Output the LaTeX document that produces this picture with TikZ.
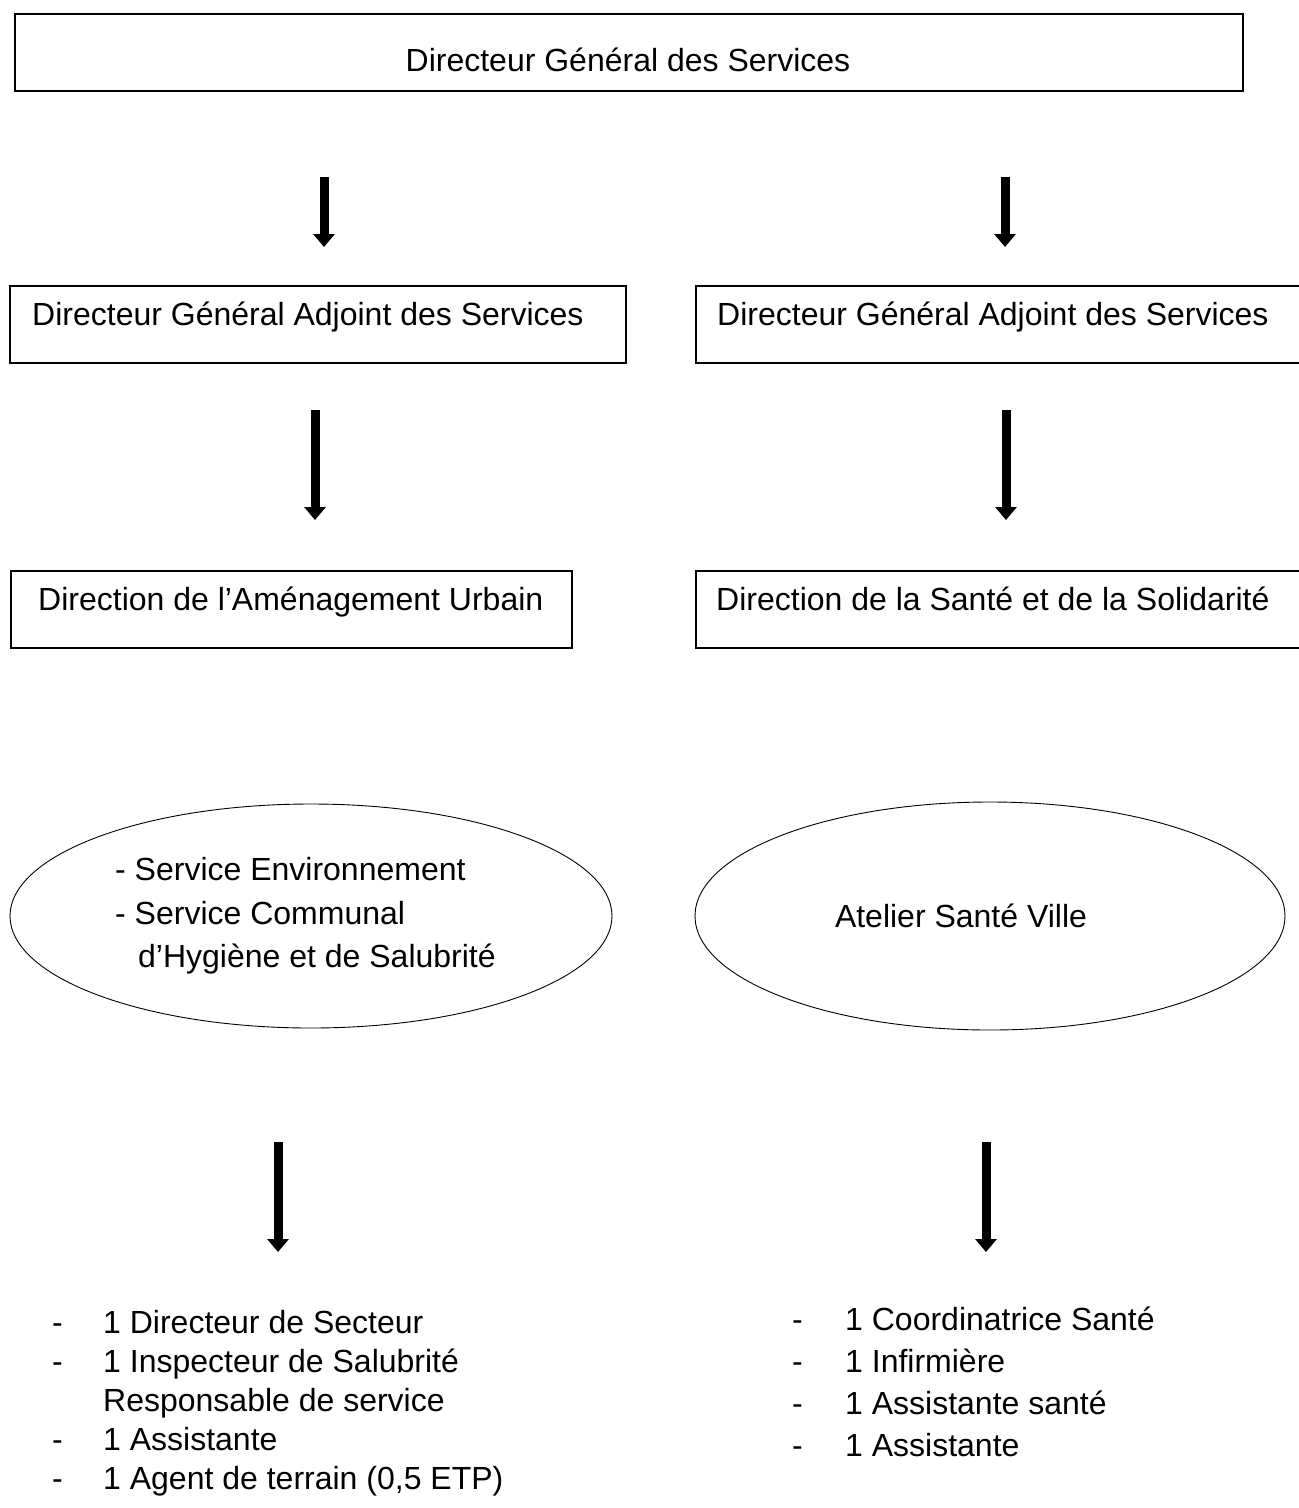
\documentclass[tikz,border=0pt]{standalone}
\usepackage{fontspec}
\setmainfont{Liberation Sans}
\usetikzlibrary{arrows.meta,shapes.geometric}
\begin{document}
\begin{tikzpicture}[x=1pt,y=-1pt,
  box/.style={draw, line width=1.6pt, rectangle, anchor=north west, inner sep=0pt},
  ell/.style={draw, line width=0.9pt, ellipse, inner sep=0pt},
  txt/.style={anchor=base west, inner sep=0pt, font=\fontsize{32}{38}\selectfont},
  ctxt/.style={anchor=base, inner sep=0pt, font=\fontsize{32}{38}\selectfont},
  arr/.style={line width=9pt, -{Triangle[width=21pt,length=13pt]}}]
\path[use as bounding box, clip] (0,0) rectangle (1299,1508);
\fill[white] (0,0) rectangle (1299,1508);

% boxes
\node[box, minimum width=1228pt, minimum height=77pt] (dgs) at (14,13) {};
\node[ctxt] (dgsT) at (628,71) {Directeur Général des Services};

\node[box, minimum width=616pt, minimum height=77pt] (dgaL) at (9,285) {};
\node[txt] (dgaLT) at (32,325) {Directeur Général Adjoint des Services};
\node[box, minimum width=640pt, minimum height=77pt] (dgaR) at (695,285) {};
\node[txt] (dgaRT) at (717,325) {Directeur Général Adjoint des Services};

\node[box, minimum width=561pt, minimum height=77pt] (dauL) at (10,570) {};
\node[txt] (dauLT) at (38,610) {Direction de l’Aménagement Urbain};
\node[box, minimum width=640pt, minimum height=77pt] (dssR) at (695,570) {};
\node[txt] (dssRT) at (716,610) {Direction de la Santé et de la Solidarité};

% ellipses
\node[ell, minimum width=602pt, minimum height=224pt] (eL) at (311,916) {};
\node[txt] (eL1) at (115,880) {- Service Environnement};
\node[txt] (eL2) at (115,924) {- Service Communal};
\node[txt] (eL3) at (138,967) {d’Hygiène et de Salubrité};
\node[ell, minimum width=590pt, minimum height=228pt] (eR) at (990,916) {};
\node[ctxt] (eRT) at (961,927) {Atelier Santé Ville};

% arrows
\coordinate (a1s) at (324,177); \coordinate (a1e) at (324,247);
\coordinate (a2s) at (1005,177); \coordinate (a2e) at (1005,247);
\coordinate (a3s) at (315,410); \coordinate (a3e) at (315,520);
\coordinate (a4s) at (1006,410); \coordinate (a4e) at (1006,520);
\coordinate (a5s) at (278,1142); \coordinate (a5e) at (278,1252);
\coordinate (a6s) at (986,1142); \coordinate (a6e) at (986,1252);
\foreach \i in {1,...,6} {\draw[arr] (a\i s) -- (a\i e);}

% left list
\node[txt] (lD1) at (52,1333) {-};
\node[txt] (lT1) at (103,1333) {1 Directeur de Secteur};
\node[txt] (lD2) at (52,1372) {-};
\node[txt] (lT2) at (103,1372) {1 Inspecteur de Salubrité};
\node[txt] (lT3) at (103,1411) {Responsable de service};
\node[txt] (lD4) at (52,1450) {-};
\node[txt] (lT4) at (103,1450) {1 Assistante};
\node[txt] (lD5) at (52,1489) {-};
\node[txt] (lT5) at (103,1489) {1 Agent de terrain (0,5 ETP)};

% right list
\node[txt] (rD1) at (792,1330) {-};
\node[txt] (rT1) at (845,1330) {1 Coordinatrice Santé};
\node[txt] (rD2) at (792,1372) {-};
\node[txt] (rT2) at (845,1372) {1 Infirmière};
\node[txt] (rD3) at (792,1414) {-};
\node[txt] (rT3) at (845,1414) {1 Assistante santé};
\node[txt] (rD4) at (792,1456) {-};
\node[txt] (rT4) at (845,1456) {1 Assistante};
\end{tikzpicture}
\end{document}
